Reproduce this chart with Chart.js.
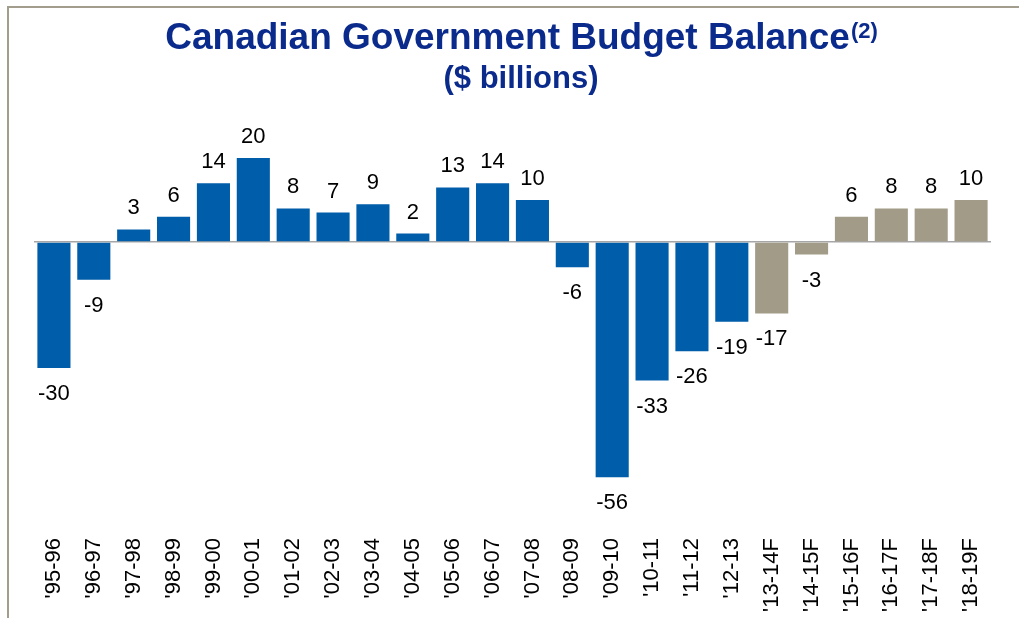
<!DOCTYPE html>
<html>
<head>
<meta charset="utf-8">
<script src="https://cdn.jsdelivr.net/npm/chart.js@4/dist/chart.umd.min.js"></script>
<style>
	body { margin: 0; background: #fff; overflow: hidden; }
	#wrap { position: relative; width: 1019px; height: 618px; }
	#frame { position: absolute; left: 7px; top: 6px; width: 1100px; height: 700px; border-left: 2px solid #a39d8d; border-top: 2px solid #a39d8d; }
</style>
</head>
<body>
<div id="wrap">
	<div id="frame"></div>
	<canvas id="chart"></canvas>
</div>
<script>
// fiscal years, F = forecast
const YEARS = ["'95-96", "'96-97", "'97-98", "'98-99", "'99-00", "'00-01", "'01-02", "'02-03", "'03-04", "'04-05", "'05-06", "'06-07", "'07-08", "'08-09", "'09-10", "'10-11", "'11-12", "'12-13", "'13-14F", "'14-15F", "'15-16F", "'16-17F", "'17-18F", "'18-19F"];
const BALANCE = [-30, -9, 3, 6, 14, 20, 8, 7, 9, 2, 13, 14, 10, -6, -56, -33, -26, -19, -17, -3, 6, 8, 8, 10];
const FORECAST = [false, false, false, false, false, false, false, false, false, false, false, false, false, false, false, false, false, false, true, true, true, true, true, true];

const BLUE = '#005da9';
const GREY = '#a29b88';
const TITLE_COLOR = '#0b2b8c';

// title with superscript, drawn on the canvas
const titlePlugin = {
	id: 'titlePlugin',
	afterDraw(chart) {
		let ctx = chart.ctx;
		ctx.save();
		ctx.fillStyle = TITLE_COLOR;
		ctx.textBaseline = 'alphabetic';
		ctx.textAlign = 'left';
		let main = 'Canadian Government Budget Balance';
		let sup = '(2)';
		ctx.font = 'bold 37px "Liberation Sans", Arial, sans-serif';
		let w1 = ctx.measureText(main).width;
		ctx.font = 'bold 22px "Liberation Sans", Arial, sans-serif';
		let w2 = ctx.measureText(sup).width;
		let x0 = 521 - (w1 + w2) / 2;
		ctx.font = 'bold 37px "Liberation Sans", Arial, sans-serif';
		ctx.fillText(main, x0, 49);
		ctx.font = 'bold 22px "Liberation Sans", Arial, sans-serif';
		ctx.fillText(sup, x0 + w1 + 1, 38);
		ctx.textAlign = 'center';
		ctx.font = 'bold 31px "Liberation Sans", Arial, sans-serif';
		ctx.fillText('($ billions)', 521, 88);
		ctx.restore();
	}
};

// value labels above / below the bars
const valueLabels = {
	id: 'valueLabels',
	afterDatasetsDraw(chart) {
		let ctx = chart.ctx;
		let meta = chart.getDatasetMeta(0);
		ctx.save();
		ctx.fillStyle = '#000';
		ctx.font = '22px "Liberation Sans", Arial, sans-serif';
		ctx.textAlign = 'center';
		ctx.textBaseline = 'alphabetic';
		meta.data.forEach((bar, i) => {
			let v = BALANCE[i];
			if (v >= 0) {
				ctx.fillText(String(v), bar.x, bar.y - 15);
			}
			else {
				ctx.fillText(String(v), bar.x, bar.y + 32);
			}
		});
		ctx.restore();
	}
};

let chart = new Chart(document.getElementById('chart'), {
	type: 'bar',
	data: {
		labels: YEARS,
		datasets: [{
			data: BALANCE,
			backgroundColor: FORECAST.map(f => f ? GREY : BLUE),
			borderWidth: 0,
			categoryPercentage: 1,
			barPercentage: 0.83
		}]
	},
	options: {
		responsive: true,
		maintainAspectRatio: false,
		animation: false,
		layout: {
			padding: { top: 116, left: 34, right: 28, bottom: 0 }
		},
		plugins: {
			legend: { display: false },
			title: { display: false },
			tooltip: { enabled: false }
		},
		scales: {
			x: {
				grid: { display: false, drawTicks: false },
				border: { display: false },
				ticks: {
					autoSkip: false,
					minRotation: 90,
					maxRotation: 90,
					padding: 2,
					color: '#000',
					font: { family: '"Liberation Sans", Arial, sans-serif', size: 22 }
				},
				afterFit: (scale) => { scale.height = 82; }
			},
			y: {
				min: -70,
				max: 30,
				border: { display: false },
				grid: {
					drawTicks: false,
					lineWidth: 1.5,
					color: (c) => (c.tick && c.tick.value === 0 ? '#a6a6a6' : 'rgba(0,0,0,0)')
				},
				ticks: { display: false, stepSize: 10 },
				afterFit: (scale) => { scale.width = 0; }
			}
		}
	},
	plugins: [titlePlugin, valueLabels]
});
</script>
</body>
</html>
